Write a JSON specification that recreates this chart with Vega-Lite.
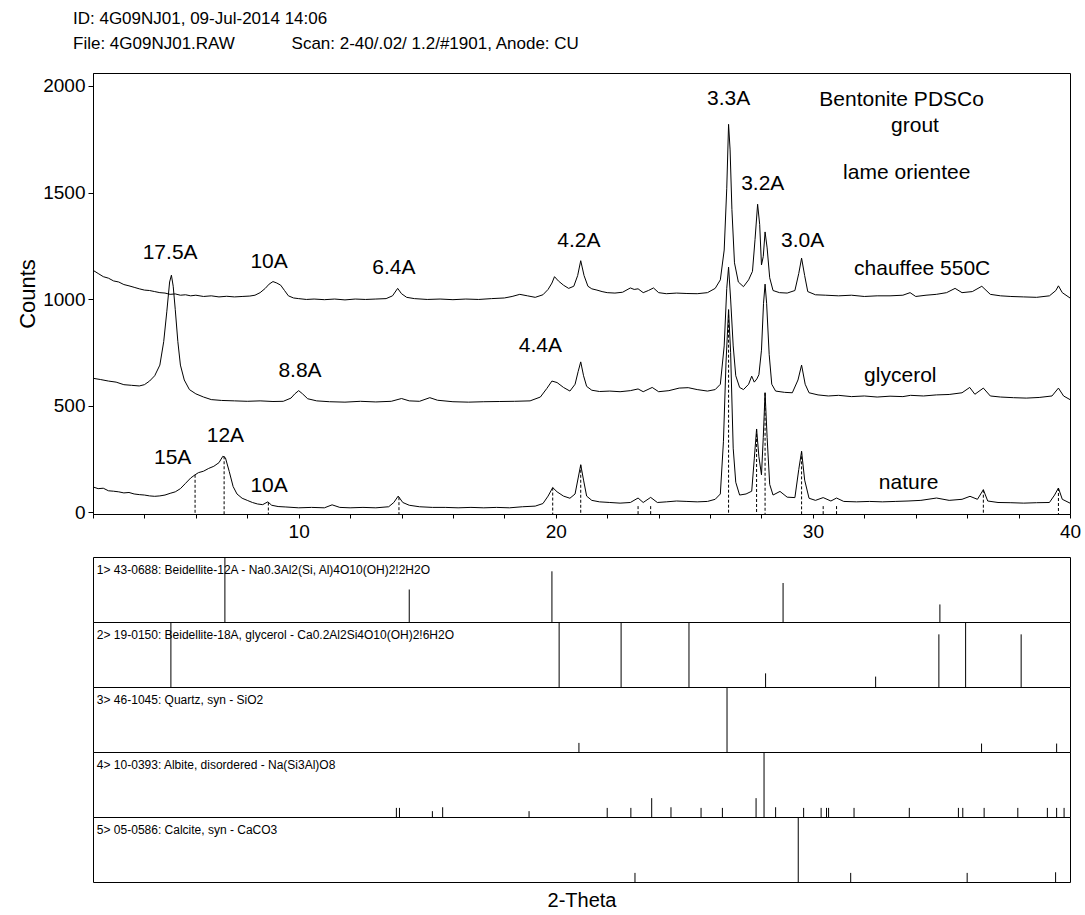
{
  "$schema": "https://vega.github.io/schema/vega-lite/v6.json",
  "background": "white",
  "padding": {"left": 16, "top": 9, "right": 5, "bottom": 3},
  "config": {
    "font": "Liberation Sans",
    "view": {"stroke": "#000", "strokeWidth": 1},
    "axis": {"domainColor": "#000", "tickColor": "#000", "labelColor": "#000", "titleColor": "#000", "grid": false, "labelFont": "Liberation Sans", "titleFont": "Liberation Sans", "titleFontWeight": "normal"}
  },
  "datasets": {
    "curves": [
      {"scan":"chauffee","theta":2.0,"counts":1135},{"scan":"chauffee","theta":2.2,"counts":1120},{"scan":"chauffee","theta":2.4,"counts":1105},{"scan":"chauffee","theta":2.6,"counts":1098},{"scan":"chauffee","theta":2.8,"counts":1085},{"scan":"chauffee","theta":3.0,"counts":1080},{"scan":"chauffee","theta":3.2,"counts":1068},{"scan":"chauffee","theta":3.4,"counts":1062},{"scan":"chauffee","theta":3.6,"counts":1055},{"scan":"chauffee","theta":3.8,"counts":1048},{"scan":"chauffee","theta":4.0,"counts":1042},{"scan":"chauffee","theta":4.2,"counts":1040},{"scan":"chauffee","theta":4.4,"counts":1035},{"scan":"chauffee","theta":4.6,"counts":1030},{"scan":"chauffee","theta":4.8,"counts":1028},{"scan":"chauffee","theta":5.0,"counts":1022},{"scan":"chauffee","theta":5.2,"counts":1024},{"scan":"chauffee","theta":5.4,"counts":1018},{"scan":"chauffee","theta":5.6,"counts":1020},{"scan":"chauffee","theta":5.8,"counts":1015},{"scan":"chauffee","theta":6.0,"counts":1018},{"scan":"chauffee","theta":6.3,"counts":1012},{"scan":"chauffee","theta":6.6,"counts":1015},{"scan":"chauffee","theta":6.9,"counts":1010},{"scan":"chauffee","theta":7.2,"counts":1013},{"scan":"chauffee","theta":7.5,"counts":1010},{"scan":"chauffee","theta":7.8,"counts":1012},{"scan":"chauffee","theta":8.1,"counts":1014},{"scan":"chauffee","theta":8.3,"counts":1018},{"scan":"chauffee","theta":8.5,"counts":1030},{"scan":"chauffee","theta":8.7,"counts":1050},{"scan":"chauffee","theta":8.85,"counts":1070},{"scan":"chauffee","theta":9.0,"counts":1082},{"scan":"chauffee","theta":9.15,"counts":1075},{"scan":"chauffee","theta":9.3,"counts":1065},{"scan":"chauffee","theta":9.45,"counts":1040},{"scan":"chauffee","theta":9.6,"counts":1015},{"scan":"chauffee","theta":9.8,"counts":1005},{"scan":"chauffee","theta":10.0,"counts":1002},{"scan":"chauffee","theta":10.3,"counts":998},{"scan":"chauffee","theta":10.6,"counts":1000},{"scan":"chauffee","theta":11.0,"counts":997},{"scan":"chauffee","theta":11.4,"counts":1000},{"scan":"chauffee","theta":11.8,"counts":996},{"scan":"chauffee","theta":12.2,"counts":1000},{"scan":"chauffee","theta":12.6,"counts":998},{"scan":"chauffee","theta":13.0,"counts":1000},{"scan":"chauffee","theta":13.4,"counts":1002},{"scan":"chauffee","theta":13.65,"counts":1015},{"scan":"chauffee","theta":13.85,"counts":1050},{"scan":"chauffee","theta":14.0,"counts":1025},{"scan":"chauffee","theta":14.2,"counts":1008},{"scan":"chauffee","theta":14.5,"counts":1002},{"scan":"chauffee","theta":15.0,"counts":998},{"scan":"chauffee","theta":15.5,"counts":1000},{"scan":"chauffee","theta":16.0,"counts":997},{"scan":"chauffee","theta":16.5,"counts":1000},{"scan":"chauffee","theta":17.0,"counts":998},{"scan":"chauffee","theta":17.5,"counts":1002},{"scan":"chauffee","theta":18.0,"counts":1005},{"scan":"chauffee","theta":18.3,"counts":1012},{"scan":"chauffee","theta":18.6,"counts":1022},{"scan":"chauffee","theta":18.9,"counts":1015},{"scan":"chauffee","theta":19.2,"counts":1008},{"scan":"chauffee","theta":19.5,"counts":1020},{"scan":"chauffee","theta":19.7,"counts":1045},{"scan":"chauffee","theta":19.85,"counts":1075},{"scan":"chauffee","theta":19.95,"counts":1105},{"scan":"chauffee","theta":20.1,"counts":1085},{"scan":"chauffee","theta":20.3,"counts":1065},{"scan":"chauffee","theta":20.5,"counts":1050},{"scan":"chauffee","theta":20.7,"counts":1060},{"scan":"chauffee","theta":20.85,"counts":1110},{"scan":"chauffee","theta":20.97,"counts":1180},{"scan":"chauffee","theta":21.1,"counts":1110},{"scan":"chauffee","theta":21.25,"counts":1060},{"scan":"chauffee","theta":21.4,"counts":1048},{"scan":"chauffee","theta":21.6,"counts":1042},{"scan":"chauffee","theta":21.8,"counts":1035},{"scan":"chauffee","theta":22.0,"counts":1030},{"scan":"chauffee","theta":22.3,"counts":1028},{"scan":"chauffee","theta":22.6,"counts":1032},{"scan":"chauffee","theta":22.9,"counts":1052},{"scan":"chauffee","theta":23.05,"counts":1045},{"scan":"chauffee","theta":23.2,"counts":1048},{"scan":"chauffee","theta":23.4,"counts":1030},{"scan":"chauffee","theta":23.6,"counts":1040},{"scan":"chauffee","theta":23.8,"counts":1052},{"scan":"chauffee","theta":24.0,"counts":1030},{"scan":"chauffee","theta":24.3,"counts":1025},{"scan":"chauffee","theta":24.7,"counts":1028},{"scan":"chauffee","theta":25.1,"counts":1026},{"scan":"chauffee","theta":25.5,"counts":1025},{"scan":"chauffee","theta":25.9,"counts":1030},{"scan":"chauffee","theta":26.2,"counts":1050},{"scan":"chauffee","theta":26.4,"counts":1090},{"scan":"chauffee","theta":26.55,"counts":1230},{"scan":"chauffee","theta":26.65,"counts":1520},{"scan":"chauffee","theta":26.72,"counts":1820},{"scan":"chauffee","theta":26.78,"counts":1700},{"scan":"chauffee","theta":26.85,"counts":1420},{"scan":"chauffee","theta":26.95,"counts":1170},{"scan":"chauffee","theta":27.1,"counts":1080},{"scan":"chauffee","theta":27.3,"counts":1058},{"scan":"chauffee","theta":27.5,"counts":1090},{"scan":"chauffee","theta":27.65,"counts":1130},{"scan":"chauffee","theta":27.75,"counts":1280},{"scan":"chauffee","theta":27.85,"counts":1445},{"scan":"chauffee","theta":27.93,"counts":1350},{"scan":"chauffee","theta":28.0,"counts":1160},{"scan":"chauffee","theta":28.07,"counts":1200},{"scan":"chauffee","theta":28.14,"counts":1315},{"scan":"chauffee","theta":28.22,"counts":1240},{"scan":"chauffee","theta":28.32,"counts":1100},{"scan":"chauffee","theta":28.45,"counts":1040},{"scan":"chauffee","theta":28.7,"counts":1030},{"scan":"chauffee","theta":29.0,"counts":1028},{"scan":"chauffee","theta":29.3,"counts":1040},{"scan":"chauffee","theta":29.45,"counts":1120},{"scan":"chauffee","theta":29.56,"counts":1192},{"scan":"chauffee","theta":29.68,"counts":1110},{"scan":"chauffee","theta":29.8,"counts":1035},{"scan":"chauffee","theta":30.1,"counts":1020},{"scan":"chauffee","theta":30.5,"counts":1018},{"scan":"chauffee","theta":31.0,"counts":1015},{"scan":"chauffee","theta":31.5,"counts":1018},{"scan":"chauffee","theta":32.0,"counts":1012},{"scan":"chauffee","theta":32.5,"counts":1015},{"scan":"chauffee","theta":33.0,"counts":1015},{"scan":"chauffee","theta":33.5,"counts":1018},{"scan":"chauffee","theta":33.78,"counts":1030},{"scan":"chauffee","theta":34.0,"counts":1012},{"scan":"chauffee","theta":34.4,"counts":1018},{"scan":"chauffee","theta":34.8,"counts":1022},{"scan":"chauffee","theta":35.2,"counts":1030},{"scan":"chauffee","theta":35.53,"counts":1050},{"scan":"chauffee","theta":35.8,"counts":1030},{"scan":"chauffee","theta":36.2,"counts":1035},{"scan":"chauffee","theta":36.57,"counts":1060},{"scan":"chauffee","theta":36.9,"counts":1022},{"scan":"chauffee","theta":37.3,"counts":1015},{"scan":"chauffee","theta":37.7,"counts":1012},{"scan":"chauffee","theta":38.2,"counts":1010},{"scan":"chauffee","theta":38.7,"counts":1008},{"scan":"chauffee","theta":39.2,"counts":1015},{"scan":"chauffee","theta":39.45,"counts":1040},{"scan":"chauffee","theta":39.55,"counts":1062},{"scan":"chauffee","theta":39.7,"counts":1030},{"scan":"chauffee","theta":40.0,"counts":1005},
      {"scan":"glycerol","theta":2.0,"counts":628},{"scan":"glycerol","theta":2.3,"counts":622},{"scan":"glycerol","theta":2.6,"counts":615},{"scan":"glycerol","theta":2.9,"counts":610},{"scan":"glycerol","theta":3.2,"counts":598},{"scan":"glycerol","theta":3.5,"counts":595},{"scan":"glycerol","theta":3.8,"counts":592},{"scan":"glycerol","theta":4.0,"counts":598},{"scan":"glycerol","theta":4.2,"counts":615},{"scan":"glycerol","theta":4.4,"counts":640},{"scan":"glycerol","theta":4.6,"counts":690},{"scan":"glycerol","theta":4.75,"counts":800},{"scan":"glycerol","theta":4.87,"counts":940},{"scan":"glycerol","theta":4.98,"counts":1080},{"scan":"glycerol","theta":5.05,"counts":1112},{"scan":"glycerol","theta":5.12,"counts":1060},{"scan":"glycerol","theta":5.2,"counts":950},{"scan":"glycerol","theta":5.3,"counts":800},{"scan":"glycerol","theta":5.4,"counts":690},{"scan":"glycerol","theta":5.55,"counts":620},{"scan":"glycerol","theta":5.75,"counts":575},{"scan":"glycerol","theta":6.0,"counts":555},{"scan":"glycerol","theta":6.3,"counts":540},{"scan":"glycerol","theta":6.6,"counts":528},{"scan":"glycerol","theta":7.0,"counts":524},{"scan":"glycerol","theta":7.5,"counts":522},{"scan":"glycerol","theta":8.0,"counts":520},{"scan":"glycerol","theta":8.5,"counts":522},{"scan":"glycerol","theta":9.0,"counts":519},{"scan":"glycerol","theta":9.4,"counts":520},{"scan":"glycerol","theta":9.7,"counts":535},{"scan":"glycerol","theta":9.85,"counts":555},{"scan":"glycerol","theta":10.0,"counts":570},{"scan":"glycerol","theta":10.15,"counts":555},{"scan":"glycerol","theta":10.35,"counts":532},{"scan":"glycerol","theta":10.7,"counts":522},{"scan":"glycerol","theta":11.2,"counts":518},{"scan":"glycerol","theta":11.8,"counts":516},{"scan":"glycerol","theta":12.4,"counts":520},{"scan":"glycerol","theta":13.0,"counts":517},{"scan":"glycerol","theta":13.6,"counts":520},{"scan":"glycerol","theta":14.0,"counts":533},{"scan":"glycerol","theta":14.3,"counts":522},{"scan":"glycerol","theta":14.7,"counts":520},{"scan":"glycerol","theta":15.1,"counts":537},{"scan":"glycerol","theta":15.4,"counts":525},{"scan":"glycerol","theta":16.0,"counts":518},{"scan":"glycerol","theta":16.6,"counts":516},{"scan":"glycerol","theta":17.2,"counts":518},{"scan":"glycerol","theta":17.8,"counts":519},{"scan":"glycerol","theta":18.4,"counts":520},{"scan":"glycerol","theta":19.0,"counts":522},{"scan":"glycerol","theta":19.4,"counts":540},{"scan":"glycerol","theta":19.65,"counts":580},{"scan":"glycerol","theta":19.85,"counts":615},{"scan":"glycerol","theta":20.05,"counts":608},{"scan":"glycerol","theta":20.3,"counts":585},{"scan":"glycerol","theta":20.55,"counts":568},{"scan":"glycerol","theta":20.75,"counts":600},{"scan":"glycerol","theta":20.87,"counts":660},{"scan":"glycerol","theta":20.97,"counts":705},{"scan":"glycerol","theta":21.08,"counts":640},{"scan":"glycerol","theta":21.2,"counts":590},{"scan":"glycerol","theta":21.4,"counts":572},{"scan":"glycerol","theta":21.7,"counts":566},{"scan":"glycerol","theta":22.1,"counts":568},{"scan":"glycerol","theta":22.5,"counts":565},{"scan":"glycerol","theta":22.9,"counts":570},{"scan":"glycerol","theta":23.2,"counts":578},{"scan":"glycerol","theta":23.4,"counts":565},{"scan":"glycerol","theta":23.75,"counts":585},{"scan":"glycerol","theta":24.0,"counts":565},{"scan":"glycerol","theta":24.4,"counts":570},{"scan":"glycerol","theta":24.8,"counts":582},{"scan":"glycerol","theta":25.15,"counts":584},{"scan":"glycerol","theta":25.5,"counts":575},{"scan":"glycerol","theta":25.9,"counts":568},{"scan":"glycerol","theta":26.2,"counts":575},{"scan":"glycerol","theta":26.4,"counts":600},{"scan":"glycerol","theta":26.55,"counts":780},{"scan":"glycerol","theta":26.65,"counts":1050},{"scan":"glycerol","theta":26.72,"counts":1150},{"scan":"glycerol","theta":26.8,"counts":1000},{"scan":"glycerol","theta":26.9,"counts":780},{"scan":"glycerol","theta":27.0,"counts":640},{"scan":"glycerol","theta":27.15,"counts":585},{"scan":"glycerol","theta":27.3,"counts":575},{"scan":"glycerol","theta":27.5,"counts":600},{"scan":"glycerol","theta":27.62,"counts":638},{"scan":"glycerol","theta":27.72,"counts":610},{"scan":"glycerol","theta":27.82,"counts":625},{"scan":"glycerol","theta":27.9,"counts":645},{"scan":"glycerol","theta":28.0,"counts":760},{"scan":"glycerol","theta":28.08,"counts":980},{"scan":"glycerol","theta":28.14,"counts":1070},{"scan":"glycerol","theta":28.2,"counts":980},{"scan":"glycerol","theta":28.3,"counts":740},{"scan":"glycerol","theta":28.4,"counts":600},{"scan":"glycerol","theta":28.55,"counts":568},{"scan":"glycerol","theta":28.9,"counts":562},{"scan":"glycerol","theta":29.2,"counts":560},{"scan":"glycerol","theta":29.42,"counts":620},{"scan":"glycerol","theta":29.56,"counts":690},{"scan":"glycerol","theta":29.7,"counts":600},{"scan":"glycerol","theta":29.85,"counts":560},{"scan":"glycerol","theta":30.2,"counts":550},{"scan":"glycerol","theta":30.6,"counts":545},{"scan":"glycerol","theta":31.0,"counts":548},{"scan":"glycerol","theta":31.5,"counts":542},{"scan":"glycerol","theta":32.0,"counts":545},{"scan":"glycerol","theta":32.5,"counts":540},{"scan":"glycerol","theta":33.0,"counts":544},{"scan":"glycerol","theta":33.5,"counts":542},{"scan":"glycerol","theta":33.8,"counts":548},{"scan":"glycerol","theta":34.3,"counts":545},{"scan":"glycerol","theta":34.8,"counts":550},{"scan":"glycerol","theta":35.3,"counts":552},{"scan":"glycerol","theta":35.8,"counts":560},{"scan":"glycerol","theta":36.1,"counts":585},{"scan":"glycerol","theta":36.3,"counts":553},{"scan":"glycerol","theta":36.63,"counts":582},{"scan":"glycerol","theta":36.9,"counts":545},{"scan":"glycerol","theta":37.3,"counts":540},{"scan":"glycerol","theta":37.8,"counts":537},{"scan":"glycerol","theta":38.3,"counts":535},{"scan":"glycerol","theta":38.8,"counts":538},{"scan":"glycerol","theta":39.3,"counts":545},{"scan":"glycerol","theta":39.55,"counts":582},{"scan":"glycerol","theta":39.75,"counts":545},{"scan":"glycerol","theta":40.0,"counts":528},
      {"scan":"nature","theta":2.0,"counts":118},{"scan":"nature","theta":2.2,"counts":110},{"scan":"nature","theta":2.4,"counts":112},{"scan":"nature","theta":2.6,"counts":100},{"scan":"nature","theta":2.8,"counts":98},{"scan":"nature","theta":3.0,"counts":95},{"scan":"nature","theta":3.2,"counts":90},{"scan":"nature","theta":3.4,"counts":92},{"scan":"nature","theta":3.6,"counts":85},{"scan":"nature","theta":3.8,"counts":82},{"scan":"nature","theta":4.0,"counts":80},{"scan":"nature","theta":4.2,"counts":76},{"scan":"nature","theta":4.4,"counts":74},{"scan":"nature","theta":4.6,"counts":76},{"scan":"nature","theta":4.8,"counts":80},{"scan":"nature","theta":5.0,"counts":88},{"scan":"nature","theta":5.2,"counts":95},{"scan":"nature","theta":5.4,"counts":110},{"scan":"nature","theta":5.6,"counts":135},{"scan":"nature","theta":5.8,"counts":160},{"scan":"nature","theta":5.97,"counts":175},{"scan":"nature","theta":6.1,"counts":185},{"scan":"nature","theta":6.3,"counts":192},{"scan":"nature","theta":6.5,"counts":205},{"scan":"nature","theta":6.7,"counts":215},{"scan":"nature","theta":6.9,"counts":232},{"scan":"nature","theta":7.05,"counts":262},{"scan":"nature","theta":7.15,"counts":255},{"scan":"nature","theta":7.3,"counts":190},{"scan":"nature","theta":7.45,"counts":120},{"scan":"nature","theta":7.6,"counts":85},{"scan":"nature","theta":7.8,"counts":65},{"scan":"nature","theta":8.0,"counts":55},{"scan":"nature","theta":8.2,"counts":45},{"scan":"nature","theta":8.4,"counts":38},{"scan":"nature","theta":8.6,"counts":35},{"scan":"nature","theta":8.8,"counts":48},{"scan":"nature","theta":8.95,"counts":32},{"scan":"nature","theta":9.2,"counts":26},{"scan":"nature","theta":9.5,"counts":24},{"scan":"nature","theta":10.0,"counts":20},{"scan":"nature","theta":10.5,"counts":22},{"scan":"nature","theta":11.0,"counts":20},{"scan":"nature","theta":11.3,"counts":34},{"scan":"nature","theta":11.6,"counts":22},{"scan":"nature","theta":12.0,"counts":20},{"scan":"nature","theta":12.5,"counts":22},{"scan":"nature","theta":13.0,"counts":20},{"scan":"nature","theta":13.5,"counts":25},{"scan":"nature","theta":13.7,"counts":45},{"scan":"nature","theta":13.87,"counts":75},{"scan":"nature","theta":14.05,"counts":45},{"scan":"nature","theta":14.3,"counts":32},{"scan":"nature","theta":14.7,"counts":25},{"scan":"nature","theta":15.2,"counts":22},{"scan":"nature","theta":15.7,"counts":22},{"scan":"nature","theta":16.2,"counts":20},{"scan":"nature","theta":16.7,"counts":22},{"scan":"nature","theta":17.2,"counts":20},{"scan":"nature","theta":17.7,"counts":22},{"scan":"nature","theta":18.2,"counts":20},{"scan":"nature","theta":18.7,"counts":25},{"scan":"nature","theta":19.2,"counts":28},{"scan":"nature","theta":19.5,"counts":40},{"scan":"nature","theta":19.7,"counts":75},{"scan":"nature","theta":19.88,"counts":115},{"scan":"nature","theta":20.05,"counts":95},{"scan":"nature","theta":20.3,"counts":75},{"scan":"nature","theta":20.55,"counts":65},{"scan":"nature","theta":20.75,"counts":85},{"scan":"nature","theta":20.87,"counts":160},{"scan":"nature","theta":20.97,"counts":222},{"scan":"nature","theta":21.08,"counts":150},{"scan":"nature","theta":21.2,"counts":75},{"scan":"nature","theta":21.4,"counts":55},{"scan":"nature","theta":21.7,"counts":48},{"scan":"nature","theta":22.1,"counts":45},{"scan":"nature","theta":22.5,"counts":42},{"scan":"nature","theta":22.9,"counts":45},{"scan":"nature","theta":23.2,"counts":66},{"scan":"nature","theta":23.4,"counts":45},{"scan":"nature","theta":23.69,"counts":69},{"scan":"nature","theta":23.95,"counts":45},{"scan":"nature","theta":24.3,"counts":48},{"scan":"nature","theta":24.7,"counts":52},{"scan":"nature","theta":25.1,"counts":50},{"scan":"nature","theta":25.5,"counts":48},{"scan":"nature","theta":25.9,"counts":50},{"scan":"nature","theta":26.2,"counts":60},{"scan":"nature","theta":26.4,"counts":85},{"scan":"nature","theta":26.52,"counts":330},{"scan":"nature","theta":26.62,"counts":700},{"scan":"nature","theta":26.72,"counts":950},{"scan":"nature","theta":26.8,"counts":750},{"scan":"nature","theta":26.9,"counts":300},{"scan":"nature","theta":27.0,"counts":140},{"scan":"nature","theta":27.15,"counts":80},{"scan":"nature","theta":27.4,"counts":85},{"scan":"nature","theta":27.62,"counts":98},{"scan":"nature","theta":27.72,"counts":250},{"scan":"nature","theta":27.81,"counts":390},{"scan":"nature","theta":27.9,"counts":260},{"scan":"nature","theta":28.0,"counts":175},{"scan":"nature","theta":28.07,"counts":350},{"scan":"nature","theta":28.14,"counts":560},{"scan":"nature","theta":28.22,"counts":350},{"scan":"nature","theta":28.32,"counts":130},{"scan":"nature","theta":28.45,"counts":80},{"scan":"nature","theta":28.72,"counts":97},{"scan":"nature","theta":29.0,"counts":70},{"scan":"nature","theta":29.3,"counts":68},{"scan":"nature","theta":29.45,"counts":200},{"scan":"nature","theta":29.56,"counts":285},{"scan":"nature","theta":29.68,"counts":150},{"scan":"nature","theta":29.85,"counts":65},{"scan":"nature","theta":30.1,"counts":55},{"scan":"nature","theta":30.4,"counts":68},{"scan":"nature","theta":30.7,"counts":52},{"scan":"nature","theta":30.92,"counts":66},{"scan":"nature","theta":31.2,"counts":50},{"scan":"nature","theta":31.7,"counts":48},{"scan":"nature","theta":32.2,"counts":50},{"scan":"nature","theta":32.7,"counts":48},{"scan":"nature","theta":33.2,"counts":50},{"scan":"nature","theta":33.7,"counts":52},{"scan":"nature","theta":34.2,"counts":55},{"scan":"nature","theta":34.81,"counts":66},{"scan":"nature","theta":35.3,"counts":55},{"scan":"nature","theta":35.8,"counts":60},{"scan":"nature","theta":36.11,"counts":74},{"scan":"nature","theta":36.4,"counts":60},{"scan":"nature","theta":36.63,"counts":105},{"scan":"nature","theta":36.8,"counts":52},{"scan":"nature","theta":37.2,"counts":45},{"scan":"nature","theta":37.7,"counts":44},{"scan":"nature","theta":38.2,"counts":42},{"scan":"nature","theta":38.7,"counts":44},{"scan":"nature","theta":39.2,"counts":45},{"scan":"nature","theta":39.4,"counts":80},{"scan":"nature","theta":39.55,"counts":113},{"scan":"nature","theta":39.7,"counts":60},{"scan":"nature","theta":40.0,"counts":42}
    ],
    "markers": [
      {"theta":5.97,"top":175},{"theta":7.1,"top":262},{"theta":8.82,"top":45},{"theta":13.9,"top":70},{"theta":19.88,"top":115},{"theta":20.97,"top":222},{"theta":23.2,"top":28},{"theta":23.69,"top":28},{"theta":26.72,"top":950},{"theta":27.81,"top":390},{"theta":28.14,"top":560},{"theta":29.56,"top":285},{"theta":30.4,"top":28},{"theta":30.92,"top":28},{"theta":36.63,"top":105},{"theta":39.55,"top":113}
    ],
    "labels": [
      {"label":"17.5A","theta":5.0,"counts":1215},{"label":"10A","theta":8.85,"counts":1172},{"label":"6.4A","theta":13.7,"counts":1146},{"label":"4.2A","theta":20.9,"counts":1272},{"label":"3.3A","theta":26.72,"counts":1940},{"label":"3.2A","theta":28.05,"counts":1540},{"label":"3.0A","theta":29.6,"counts":1274},{"label":"Bentonite PDSCo","theta":33.45,"counts":1935},{"label":"grout","theta":33.97,"counts":1811},{"label":"lame orientee","theta":33.65,"counts":1592},{"label":"chauffee 550C","theta":34.25,"counts":1142},{"label":"glycerol","theta":33.4,"counts":637},{"label":"nature","theta":33.72,"counts":136},{"label":"4.4A","theta":19.4,"counts":778},{"label":"8.8A","theta":10.05,"counts":661},{"label":"15A","theta":5.1,"counts":254},{"label":"12A","theta":7.15,"counts":355},{"label":"10A","theta":8.85,"counts":121}
    ],
    "sticks": [
      {"panel":1,"name":"1> 43-0688: Beidellite-12A - Na0.3Al2(Si, Al)4O10(OH)2!2H2O","theta":7.13,"rel":100},
      {"panel":1,"name":"1> 43-0688: Beidellite-12A - Na0.3Al2(Si, Al)4O10(OH)2!2H2O","theta":14.3,"rel":50},
      {"panel":1,"name":"1> 43-0688: Beidellite-12A - Na0.3Al2(Si, Al)4O10(OH)2!2H2O","theta":19.85,"rel":78},
      {"panel":1,"name":"1> 43-0688: Beidellite-12A - Na0.3Al2(Si, Al)4O10(OH)2!2H2O","theta":28.84,"rel":60},
      {"panel":1,"name":"1> 43-0688: Beidellite-12A - Na0.3Al2(Si, Al)4O10(OH)2!2H2O","theta":34.94,"rel":27},
      {"panel":2,"name":"2> 19-0150: Beidellite-18A, glycerol - Ca0.2Al2Si4O10(OH)2!6H2O","theta":5.03,"rel":100},
      {"panel":2,"name":"2> 19-0150: Beidellite-18A, glycerol - Ca0.2Al2Si4O10(OH)2!6H2O","theta":20.13,"rel":100},
      {"panel":2,"name":"2> 19-0150: Beidellite-18A, glycerol - Ca0.2Al2Si4O10(OH)2!6H2O","theta":22.54,"rel":100},
      {"panel":2,"name":"2> 19-0150: Beidellite-18A, glycerol - Ca0.2Al2Si4O10(OH)2!6H2O","theta":25.18,"rel":100},
      {"panel":2,"name":"2> 19-0150: Beidellite-18A, glycerol - Ca0.2Al2Si4O10(OH)2!6H2O","theta":28.16,"rel":21},
      {"panel":2,"name":"2> 19-0150: Beidellite-18A, glycerol - Ca0.2Al2Si4O10(OH)2!6H2O","theta":32.44,"rel":16},
      {"panel":2,"name":"2> 19-0150: Beidellite-18A, glycerol - Ca0.2Al2Si4O10(OH)2!6H2O","theta":34.9,"rel":81},
      {"panel":2,"name":"2> 19-0150: Beidellite-18A, glycerol - Ca0.2Al2Si4O10(OH)2!6H2O","theta":35.94,"rel":100},
      {"panel":2,"name":"2> 19-0150: Beidellite-18A, glycerol - Ca0.2Al2Si4O10(OH)2!6H2O","theta":38.1,"rel":81},
      {"panel":3,"name":"3> 46-1045: Quartz, syn - SiO2","theta":20.9,"rel":14},
      {"panel":3,"name":"3> 46-1045: Quartz, syn - SiO2","theta":26.66,"rel":100},
      {"panel":3,"name":"3> 46-1045: Quartz, syn - SiO2","theta":36.56,"rel":13},
      {"panel":3,"name":"3> 46-1045: Quartz, syn - SiO2","theta":39.48,"rel":13},
      {"panel":4,"name":"4> 10-0393: Albite, disordered - Na(Si3Al)O8","theta":13.8,"rel":14},
      {"panel":4,"name":"4> 10-0393: Albite, disordered - Na(Si3Al)O8","theta":13.92,"rel":14},
      {"panel":4,"name":"4> 10-0393: Albite, disordered - Na(Si3Al)O8","theta":15.2,"rel":9},
      {"panel":4,"name":"4> 10-0393: Albite, disordered - Na(Si3Al)O8","theta":15.6,"rel":15},
      {"panel":4,"name":"4> 10-0393: Albite, disordered - Na(Si3Al)O8","theta":18.96,"rel":9},
      {"panel":4,"name":"4> 10-0393: Albite, disordered - Na(Si3Al)O8","theta":22.0,"rel":14},
      {"panel":4,"name":"4> 10-0393: Albite, disordered - Na(Si3Al)O8","theta":22.92,"rel":14},
      {"panel":4,"name":"4> 10-0393: Albite, disordered - Na(Si3Al)O8","theta":23.73,"rel":29},
      {"panel":4,"name":"4> 10-0393: Albite, disordered - Na(Si3Al)O8","theta":24.48,"rel":15},
      {"panel":4,"name":"4> 10-0393: Albite, disordered - Na(Si3Al)O8","theta":25.65,"rel":14},
      {"panel":4,"name":"4> 10-0393: Albite, disordered - Na(Si3Al)O8","theta":26.48,"rel":14},
      {"panel":4,"name":"4> 10-0393: Albite, disordered - Na(Si3Al)O8","theta":27.79,"rel":29},
      {"panel":4,"name":"4> 10-0393: Albite, disordered - Na(Si3Al)O8","theta":28.1,"rel":100},
      {"panel":4,"name":"4> 10-0393: Albite, disordered - Na(Si3Al)O8","theta":28.55,"rel":15},
      {"panel":4,"name":"4> 10-0393: Albite, disordered - Na(Si3Al)O8","theta":29.64,"rel":14},
      {"panel":4,"name":"4> 10-0393: Albite, disordered - Na(Si3Al)O8","theta":30.32,"rel":14},
      {"panel":4,"name":"4> 10-0393: Albite, disordered - Na(Si3Al)O8","theta":30.53,"rel":14},
      {"panel":4,"name":"4> 10-0393: Albite, disordered - Na(Si3Al)O8","theta":30.61,"rel":14},
      {"panel":4,"name":"4> 10-0393: Albite, disordered - Na(Si3Al)O8","theta":31.6,"rel":14},
      {"panel":4,"name":"4> 10-0393: Albite, disordered - Na(Si3Al)O8","theta":33.75,"rel":14},
      {"panel":4,"name":"4> 10-0393: Albite, disordered - Na(Si3Al)O8","theta":35.66,"rel":14},
      {"panel":4,"name":"4> 10-0393: Albite, disordered - Na(Si3Al)O8","theta":35.83,"rel":14},
      {"panel":4,"name":"4> 10-0393: Albite, disordered - Na(Si3Al)O8","theta":36.66,"rel":14},
      {"panel":4,"name":"4> 10-0393: Albite, disordered - Na(Si3Al)O8","theta":37.97,"rel":14},
      {"panel":4,"name":"4> 10-0393: Albite, disordered - Na(Si3Al)O8","theta":39.12,"rel":14},
      {"panel":4,"name":"4> 10-0393: Albite, disordered - Na(Si3Al)O8","theta":39.48,"rel":14},
      {"panel":4,"name":"4> 10-0393: Albite, disordered - Na(Si3Al)O8","theta":39.77,"rel":14},
      {"panel":5,"name":"5> 05-0586: Calcite, syn - CaCO3","theta":23.08,"rel":14},
      {"panel":5,"name":"5> 05-0586: Calcite, syn - CaCO3","theta":29.43,"rel":100},
      {"panel":5,"name":"5> 05-0586: Calcite, syn - CaCO3","theta":31.47,"rel":14},
      {"panel":5,"name":"5> 05-0586: Calcite, syn - CaCO3","theta":36.0,"rel":14},
      {"panel":5,"name":"5> 05-0586: Calcite, syn - CaCO3","theta":39.44,"rel":15}
    ]
  },
  "spacing": 14,
  "vconcat": [
    {
      "title": {
        "text": "ID: 4G09NJ01, 09-Jul-2014 14:06",
        "subtitle": "File: 4G09NJ01.RAW\u00a0\u00a0\u00a0\u00a0\u00a0\u00a0\u00a0\u00a0\u00a0\u00a0\u00a0\u00a0Scan: 2-40/.02/ 1.2/#1901, Anode: CU",
        "anchor": "start",
        "frame": "group",
        "dx": -20,
        "font": "Liberation Sans",
        "subtitleFont": "Liberation Sans",
        "fontSize": 17,
        "subtitleFontSize": 17,
        "fontWeight": "normal",
        "color": "#000",
        "subtitleColor": "#000",
        "subtitlePadding": 8,
        "offset": 20
      },
      "width": 977,
      "height": 441,
      "layer": [
        {
          "data": {"name": "curves"},
          "mark": {"type": "line", "color": "#000", "strokeWidth": 1},
          "encoding": {
            "x": {"field": "theta", "type": "quantitative", "scale": {"domain": [2, 40], "nice": false, "zero": false},
                  "axis": {"title": null, "values": [2,3,4,5,6,7,8,9,10,11,12,13,14,15,16,17,18,19,20,21,22,23,24,25,26,27,28,29,30,31,32,33,34,35,36,37,38,39,40],
                           "labelExpr": "datum.value % 5 === 0 ? datum.label : ''", "labelOverlap": false, "labelFlush": false,
                           "tickSize": 4, "labelPadding": 4, "labelFontSize": 19}},
            "y": {"field": "counts", "type": "quantitative", "scale": {"domain": [-9, 2061], "nice": false, "zero": false},
                  "axis": {"title": "Counts", "format": "d", "values": [0, 500, 1000, 1500, 2000], "tickSize": 5, "labelPadding": 3, "labelFontSize": 19, "titleFontSize": 22, "titlePadding": 3}},
            "detail": {"field": "scan"}
          }
        },
        {
          "data": {"name": "markers"},
          "mark": {"type": "rule", "color": "#000", "strokeWidth": 1, "strokeDash": [3, 2]},
          "encoding": {
            "x": {"field": "theta", "type": "quantitative"},
            "y": {"field": "top", "type": "quantitative"},
            "y2": {"datum": -9}
          }
        },
        {
          "data": {"name": "labels"},
          "mark": {"type": "text", "fontSize": 21, "color": "#000", "font": "Liberation Sans", "align": "center", "baseline": "middle"},
          "encoding": {
            "x": {"field": "theta", "type": "quantitative"},
            "y": {"field": "counts", "type": "quantitative"},
            "text": {"field": "label"}
          }
        }
      ]
    },
    {
      "data": {"name": "sticks"},
      "facet": {"row": {"field": "panel", "type": "ordinal", "header": null}},
      "spacing": 0,
      "bounds": "flush",
      "spec": {
        "width": 977,
        "height": 65,
        "layer": [
          {
            "mark": {"type": "rule", "color": "#000", "strokeWidth": 1},
            "encoding": {
              "x": {"field": "theta", "type": "quantitative", "scale": {"domain": [2, 40], "nice": false, "zero": false},
                    "axis": {"title": "2-Theta", "labels": false, "ticks": false, "domain": false, "titleFontSize": 20, "titlePadding": 8}},
              "y": {"field": "rel", "type": "quantitative", "scale": {"domain": [0, 100], "nice": false}, "axis": null},
              "y2": {"datum": 0}
            }
          },
          {
            "transform": [{"aggregate": [{"op": "count", "as": "n"}], "groupby": ["panel", "name"]}],
            "mark": {"type": "text", "align": "left", "baseline": "middle", "fontSize": 12, "color": "#000", "font": "Liberation Sans"},
            "encoding": {
              "x": {"datum": 2.15},
              "y": {"datum": 80},
              "text": {"field": "name"}
            }
          }
        ]
      }
    }
  ]
}
